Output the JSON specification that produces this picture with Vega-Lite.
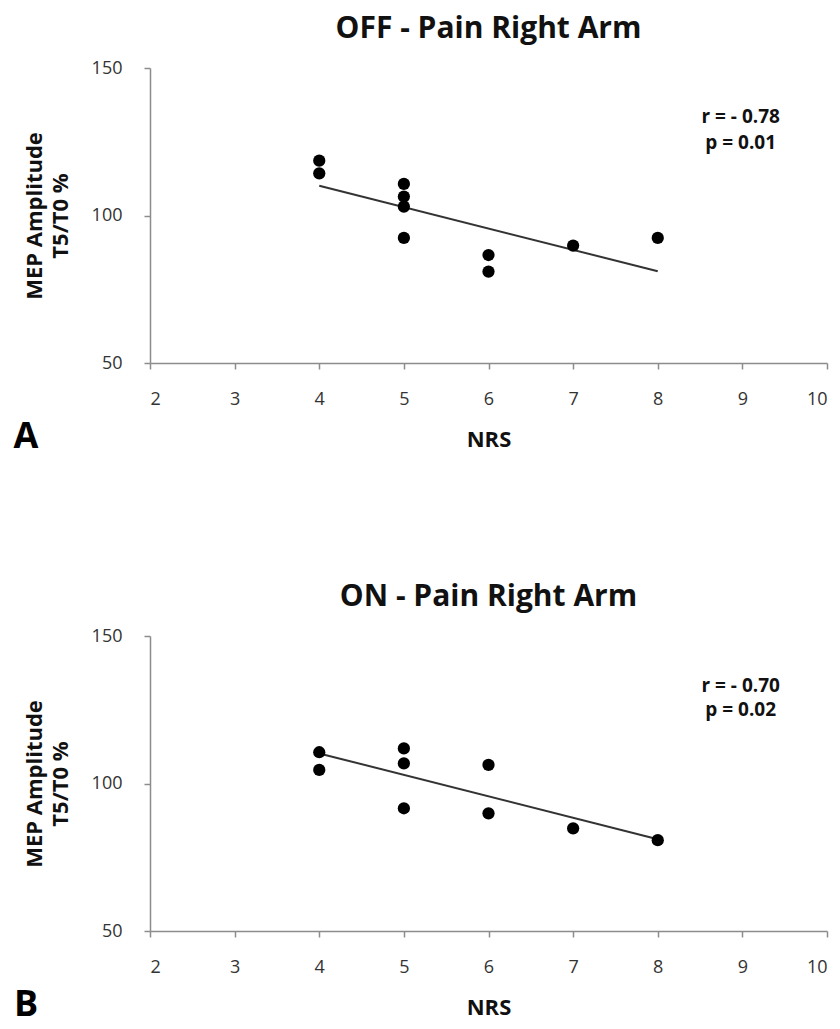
{
  "$schema": "https://vega.github.io/schema/vega-lite/v6.json",
  "background": "white",
  "padding": {"left": 13, "top": 14, "right": 10, "bottom": 5},
  "spacing": 127,
  "config": {
    "view": {"stroke": null},
    "font": "Open Sans",
    "axis": {
      "grid": false,
      "domainColor": "#8c8c8c",
      "domainWidth": 1.5,
      "tickColor": "#8c8c8c",
      "tickWidth": 1.5,
      "tickSize": 6,
      "labelColor": "#333333",
      "labelFont": "Open Sans",
      "labelFontSize": 18,
      "titleFont": "Open Sans",
      "titleFontWeight": "bold",
      "titleColor": "#111111",
      "titleFontSize": 22
    },
    "title": {"font": "Open Sans", "fontSize": 30, "fontWeight": "bold", "color": "#111111", "offset": 15}
  },
  "datasets": {
    "offPts": [
      {"nrs": 4, "mep": 118.6}, {"nrs": 4, "mep": 114.3},
      {"nrs": 5, "mep": 110.7}, {"nrs": 5, "mep": 106.4}, {"nrs": 5, "mep": 103.0}, {"nrs": 5, "mep": 92.4},
      {"nrs": 6, "mep": 86.6}, {"nrs": 6, "mep": 81.0},
      {"nrs": 7, "mep": 89.8},
      {"nrs": 8, "mep": 92.4}
    ],
    "offLine": [{"nrs": 4, "mep": 110.1}, {"nrs": 8, "mep": 81.1}],
    "offTxt": [
      {"nrs": 8.98, "mep": 133.4, "t": "r = - 0.78"},
      {"nrs": 8.98, "mep": 124.6, "t": "p = 0.01"}
    ],
    "offLbl": [{"nrs": 0.535, "mep": 25.0, "t": "A"}],
    "onPts": [
      {"nrs": 4, "mep": 110.6}, {"nrs": 4, "mep": 104.6},
      {"nrs": 5, "mep": 111.9}, {"nrs": 5, "mep": 106.8}, {"nrs": 5, "mep": 91.6},
      {"nrs": 6, "mep": 106.3}, {"nrs": 6, "mep": 89.9},
      {"nrs": 7, "mep": 84.8},
      {"nrs": 8, "mep": 80.8}
    ],
    "onLine": [{"nrs": 4, "mep": 110.2}, {"nrs": 8, "mep": 81.1}],
    "onTxt": [
      {"nrs": 8.98, "mep": 133.1, "t": "r = - 0.70"},
      {"nrs": 8.98, "mep": 124.9, "t": "p = 0.02"}
    ],
    "onLbl": [{"nrs": 0.535, "mep": 25.0, "t": "B"}]
  },
  "vconcat": [
    {
      "title": "OFF - Pain Right Arm",
      "width": 677,
      "height": 295,
      "encoding": {
        "x": {"field": "nrs", "type": "quantitative", "title": "NRS",
              "scale": {"domain": [2, 10], "nice": false, "zero": false},
              "axis": {"values": [2, 3, 4, 5, 6, 7, 8, 9, 10], "labelPadding": 21, "titlePadding": 21}},
        "y": {"field": "mep", "type": "quantitative", "title": ["MEP Amplitude", "T5/T0 %"],
              "scale": {"domain": [50, 150], "nice": false, "zero": false},
              "axis": {"values": [50, 100, 150], "labelPadding": 22, "minExtent": 62, "maxExtent": 62, "titlePadding": 16, "titleLineHeight": 26}}
      },
      "layer": [
        {"data": {"name": "offLine"}, "mark": {"type": "line", "color": "#333333", "strokeWidth": 2}},
        {"data": {"name": "offPts"}, "mark": {"type": "circle", "color": "#000000", "opacity": 1, "size": 150}},
        {"data": {"name": "offTxt"}, "mark": {"type": "text", "fontSize": 19, "fontWeight": "bold", "color": "#111111", "align": "center", "baseline": "middle"},
         "encoding": {"text": {"field": "t"}}},
        {"data": {"name": "offLbl"}, "mark": {"type": "text", "fontSize": 36, "fontWeight": "bold", "color": "#000000", "align": "center", "baseline": "middle"},
         "encoding": {"text": {"field": "t"}}}
      ]
    },
    {
      "title": "ON - Pain Right Arm",
      "width": 677,
      "height": 295,
      "encoding": {
        "x": {"field": "nrs", "type": "quantitative", "title": "NRS",
              "scale": {"domain": [2, 10], "nice": false, "zero": false},
              "axis": {"values": [2, 3, 4, 5, 6, 7, 8, 9, 10], "labelPadding": 21, "titlePadding": 21}},
        "y": {"field": "mep", "type": "quantitative", "title": ["MEP Amplitude", "T5/T0 %"],
              "scale": {"domain": [50, 150], "nice": false, "zero": false},
              "axis": {"values": [50, 100, 150], "labelPadding": 22, "minExtent": 62, "maxExtent": 62, "titlePadding": 16, "titleLineHeight": 26}}
      },
      "layer": [
        {"data": {"name": "onLine"}, "mark": {"type": "line", "color": "#333333", "strokeWidth": 2}},
        {"data": {"name": "onPts"}, "mark": {"type": "circle", "color": "#000000", "opacity": 1, "size": 150}},
        {"data": {"name": "onTxt"}, "mark": {"type": "text", "fontSize": 19, "fontWeight": "bold", "color": "#111111", "align": "center", "baseline": "middle"},
         "encoding": {"text": {"field": "t"}}},
        {"data": {"name": "onLbl"}, "mark": {"type": "text", "fontSize": 36, "fontWeight": "bold", "color": "#000000", "align": "center", "baseline": "middle"},
         "encoding": {"text": {"field": "t"}}}
      ]
    }
  ]
}
